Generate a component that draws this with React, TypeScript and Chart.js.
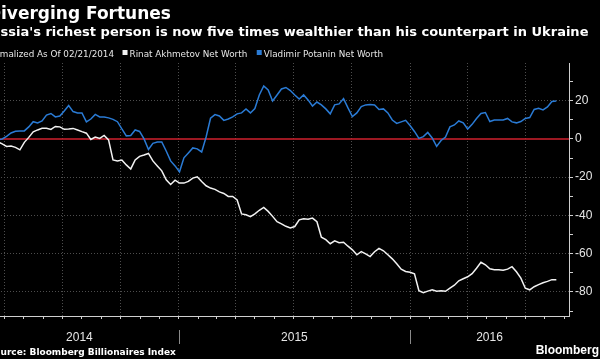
import React, { useEffect, useRef } from 'react';
import { Chart, registerables } from 'chart.js';

Chart.register(...registerables);

// ---------- data ----------
const SERIES_START = '2014-02-21';
const STEP_DAYS = 7;
const AXIS_END = '2016-09-08';

// Rinat Akhmetov net worth, normalized (% change since 02/21/2014), weekly
const akhmetov = [
  0, -1, -2, 0, -1.5, -2.6, -3.9, -3.7, -4.4, -5.7,
  -1.8, 0.8, 3.7, 4.7, 5.6, 5.6, 5.0, 6.5, 6.3, 5.0,
  5.2, 5.5, 4.7, 3.8, 3.0, -0.3, 1.0, 0.3, 1.8, -0.5,
  -11.0, -11.5, -11.0, -13.6, -15.7, -11.0, -9.1, -8.4, -7.6, -11.5,
  -14.1, -16.7, -21.4, -23.8, -21.6, -23.1, -23.1, -22.2, -20.5, -19.8,
  -22.3, -24.5, -25.7, -26.4, -27.7, -28.5, -30.1, -30.1, -31.9, -39.2,
  -39.7, -40.7, -39.2, -37.3, -35.8, -37.9, -40.5, -43.3, -44.4, -45.7,
  -46.6, -45.8, -42.3, -41.8, -42.0, -41.4, -43.3, -51.4, -52.7, -54.8,
  -53.3, -54.3, -54.0, -56.1, -58.0, -60.6, -58.9, -60.1, -61.5, -59.0,
  -57.2, -58.5, -60.6, -62.7, -65.3, -68.1, -69.3, -69.7, -70.5, -79.4,
  -80.4, -79.6, -78.9, -79.6, -79.4, -79.7, -78.0, -76.5, -74.2, -73.1,
  -72.1, -70.5, -67.6, -64.5, -65.8, -67.9, -68.4, -68.4, -68.7, -68.1,
  -66.8, -69.5, -72.8, -78.1, -78.9, -77.3, -76.2, -75.2, -74.5, -73.6,
  -73.6,
];

// Vladimir Potanin net worth, normalized, weekly
const potanin = [
  0, -1, 1, -1, -0.5, 0, 1.3, 3.1, 4.0, 4.2,
  4.2, 6.3, 9.0, 8.4, 9.4, 12.5, 13.3, 11.5, 12.0, 14.6,
  17.5, 14.3, 13.6, 13.6, 8.9, 10.4, 12.8, 11.5, 11.5, 11.0,
  10.2, 9.0, 5.2, 1.6, 1.8, 4.7, 3.9, 0, -5.5, -2.3,
  -1.6, -1.6, -6.3, -11.5, -14.1, -17.2, -9.9, -7.3, -4.7, -5.2,
  -6.8, 1.0, 10.8, 12.7, 12.0, 9.7, 10.4, 11.5, 13.1, 13.6,
  15.7, 13.6, 15.9, 23.0, 27.7, 25.6, 19.8, 23.0, 26.1, 26.9,
  25.3, 23.0, 20.9, 23.0, 20.4, 17.2, 19.3, 17.8, 15.7, 13.1,
  17.8, 18.3, 21.1, 16.2, 11.7, 13.6, 16.9, 17.8, 18.0, 17.8,
  15.4, 15.7, 13.6, 9.9, 8.1, 8.9, 9.7, 7.0, 3.9, 0.3,
  1.2, 3.4, 0.5, -3.9, -0.8, 1.0, 6.3, 7.3, 9.4, 8.4,
  5.2, 7.6, 10.7, 13.3, 13.8, 9.1, 9.9, 9.9, 9.9, 10.7,
  8.9, 8.4, 9.1, 10.7, 11.2, 15.4, 16.0, 15.2, 16.7, 19.6,
  19.8,
];

const Y_MIN = -92.6;
const Y_MAX = 39.7;
const yTickValues = [-90, -80, -70, -60, -50, -40, -30, -20, -10, 0, 10, 20, 30];
const yLabelValues = [20, 0, -20, -40, -60, -80];
const years = ['2014', '2015', '2016'];

const titleText = 'Diverging Fortunes';
const subtitleText = "Russia's richest person is now five times wealthier than his counterpart in Ukraine";
const noteText = 'Normalized As Of 02/21/2014';
const legendLabels = ['Rinat Akhmetov Net Worth', 'Vladimir Potanin Net Worth'];
const sourceText = 'Source: Bloomberg Billionaires Index';
const brandText = 'Bloomberg';

// ---------- styling ----------
const OFF = 30; // the reference is cropped on the left
const W = 600 + OFF;
const H = 359;
const WHITE_LINE = '#f2f2f2';
const BLUE_LINE = '#2a7bd5';
const RED_LINE = '#d0202e';
const GRID = '#4d4d4d';
const AXIS = '#cfcfcf';
const LABEL = '#e6e6e6';

const dayNum = (iso: string) => {
  const [y, m, d] = iso.split('-').map(Number);
  return (Date.UTC(y, m - 1, d) - Date.UTC(2014, 0, 1)) / 86400000;
};

const X_MIN = dayNum(SERIES_START);
const X_MAX = dayNum(AXIS_END);
const seriesDays = potanin.map((_, i) => X_MIN + STEP_DAYS * i);

const monthTicks: { day: number; month: number }[] = [];
for (let y = 2014; y <= 2016; y++) {
  for (let m = 0; m < 12; m++) {
    const d = (Date.UTC(y, m, 1) - Date.UTC(2014, 0, 1)) / 86400000;
    if (d > X_MIN && d < X_MAX) monthTicks.push({ day: d, month: m });
  }
}
const quarterDays = monthTicks.filter((t) => t.month % 3 === 0).map((t) => t.day);
const yearStartDays = years.map((y) => dayNum(`${y}-01-01`));

const textPlugin = {
  id: 'bbgText',
  beforeDraw(chart: any) {
    const ctx = chart.ctx;
    ctx.save();
    ctx.fillStyle = '#000';
    ctx.fillRect(0, 0, chart.width, chart.height);
    ctx.restore();
  },
  afterDraw(chart: any) {
    const ctx: CanvasRenderingContext2D = chart.ctx;
    const xs = chart.scales.x;
    const area = chart.chartArea;
    ctx.save();
    ctx.textBaseline = 'alphabetic';
    ctx.textAlign = 'left';

    // title
    ctx.fillStyle = '#ffffff';
    ctx.font = 'bold 17px "DejaVu Sans"';
    ctx.fillText(titleText, OFF + 1 - ctx.measureText('D').width, 18.5);

    // subtitle
    ctx.font = 'bold 13px "DejaVu Sans"';
    ctx.fillText(subtitleText, OFF + 0.5 - ctx.measureText('Ru').width, 36);

    // legend line
    ctx.font = '8.8px "DejaVu Sans"';
    ctx.fillStyle = LABEL;
    let lx = OFF - ctx.measureText('Nor').width;
    const ly = 56.5;
    ctx.fillText(noteText, lx, ly);
    lx += ctx.measureText(noteText).width + 8.5;
    const colors = [WHITE_LINE, BLUE_LINE];
    legendLabels.forEach((lab, i) => {
      ctx.fillStyle = colors[i];
      ctx.fillRect(lx, 50, 5, 5);
      lx += 7;
      ctx.fillStyle = LABEL;
      ctx.fillText(lab, lx, ly);
      lx += ctx.measureText(lab).width + 9.5;
    });

    // year labels + separators
    ctx.font = '12px "Liberation Sans"';
    ctx.fillStyle = LABEL;
    ctx.textAlign = 'center';
    const bounds = [area.left, ...yearStartDays.slice(1).map((d) => xs.getPixelForValue(d)), area.right];
    years.forEach((y, i) => {
      ctx.fillText(y, (bounds[i] + bounds[i + 1]) / 2, 341);
    });
    ctx.strokeStyle = '#8a8a8a';
    ctx.lineWidth = 1;
    yearStartDays.slice(1).forEach((d) => {
      const px = Math.round(xs.getPixelForValue(d)) + 0.5;
      ctx.beginPath();
      ctx.moveTo(px, 330);
      ctx.lineTo(px, 344);
      ctx.stroke();
    });

    // footer
    ctx.textAlign = 'left';
    ctx.fillStyle = '#ffffff';
    ctx.font = 'bold 9px "DejaVu Sans"';
    ctx.fillText(sourceText, OFF + 0.5 - ctx.measureText('So').width, 355);

    ctx.font = 'bold 12px "Liberation Sans"';
    ctx.textAlign = 'right';
    ctx.fillText(brandText, W - 1, 353.5);
    ctx.restore();
  },
};

export default function App() {
  const ref = useRef<HTMLCanvasElement>(null);

  useEffect(() => {
    document.body.style.margin = '0';
    document.body.style.background = '#000';
    document.documentElement.style.background = '#000';
    const canvas = ref.current;
    if (!canvas) return;

    const chart = new Chart(canvas, {
      type: 'line',
      data: {
        datasets: [
          {
            label: legendLabels[0],
            data: seriesDays.map((d, i) => ({ x: d, y: akhmetov[i] })),
            borderColor: WHITE_LINE,
            borderWidth: 1.5,
            pointRadius: 0,
            tension: 0,
          },
          {
            label: legendLabels[1],
            data: seriesDays.map((d, i) => ({ x: d, y: potanin[i] })),
            borderColor: BLUE_LINE,
            borderWidth: 1.5,
            pointRadius: 0,
            tension: 0,
          },
          {
            label: 'zero',
            data: [
              { x: X_MIN, y: 0 },
              { x: X_MAX, y: 0 },
            ],
            borderColor: RED_LINE,
            borderWidth: 1.5,
            pointRadius: 0,
          },
        ],
      },
      options: {
        responsive: false,
        animation: false,
        events: [],
        layout: { padding: { top: 63, left: 10, right: 0, bottom: 0 } },
        plugins: {
          legend: { display: false },
          title: { display: false },
          tooltip: { enabled: false },
        },
        scales: {
          x: {
            type: 'linear',
            position: 'bottom',
            min: X_MIN,
            max: X_MAX,
            afterBuildTicks: (s: any) => {
              s.ticks = monthTicks.map((t) => ({ value: t.day }));
            },
            afterFit: (s: any) => {
              s.height = 43;
            },
            ticks: { display: false },
            grid: {
              color: (c: any) => (c.tick && quarterDays.includes(c.tick.value) ? GRID : 'rgba(0,0,0,0)'),
              tickColor: AXIS,
              tickLength: 3,
              lineWidth: 1,
            },
            border: { display: true, color: AXIS, width: 1, dash: [1, 2] },
          },
          y: {
            type: 'linear',
            position: 'right',
            min: Y_MIN,
            max: Y_MAX,
            afterBuildTicks: (s: any) => {
              s.ticks = yTickValues.map((v) => ({ value: v }));
            },
            afterFit: (s: any) => {
              s.width = 31;
            },
            ticks: {
              color: LABEL,
              padding: 2,
              font: { family: '"Liberation Sans"', size: 12 },
              callback: (v: any) => (yLabelValues.includes(Number(v)) ? String(v) : ''),
            },
            grid: {
              color: (c: any) =>
                c.tick && c.tick.value % 20 === 0 && c.tick.value !== 0 ? GRID : 'rgba(0,0,0,0)',
              tickColor: AXIS,
              tickLength: 4,
              lineWidth: 1,
            },
            border: { display: true, color: AXIS, width: 1, dash: [1, 2] },
          },
        },
      },
      plugins: [textPlugin],
    } as any);

    return () => chart.destroy();
  }, []);

  return (
    <div
      style={{
        position: 'absolute',
        left: -OFF,
        top: 0,
        width: W,
        height: H,
        background: '#000',
        overflow: 'hidden',
      }}
    >
      <canvas ref={ref} width={W} height={H} style={{ display: 'block', width: W, height: H }} />
    </div>
  );
}
